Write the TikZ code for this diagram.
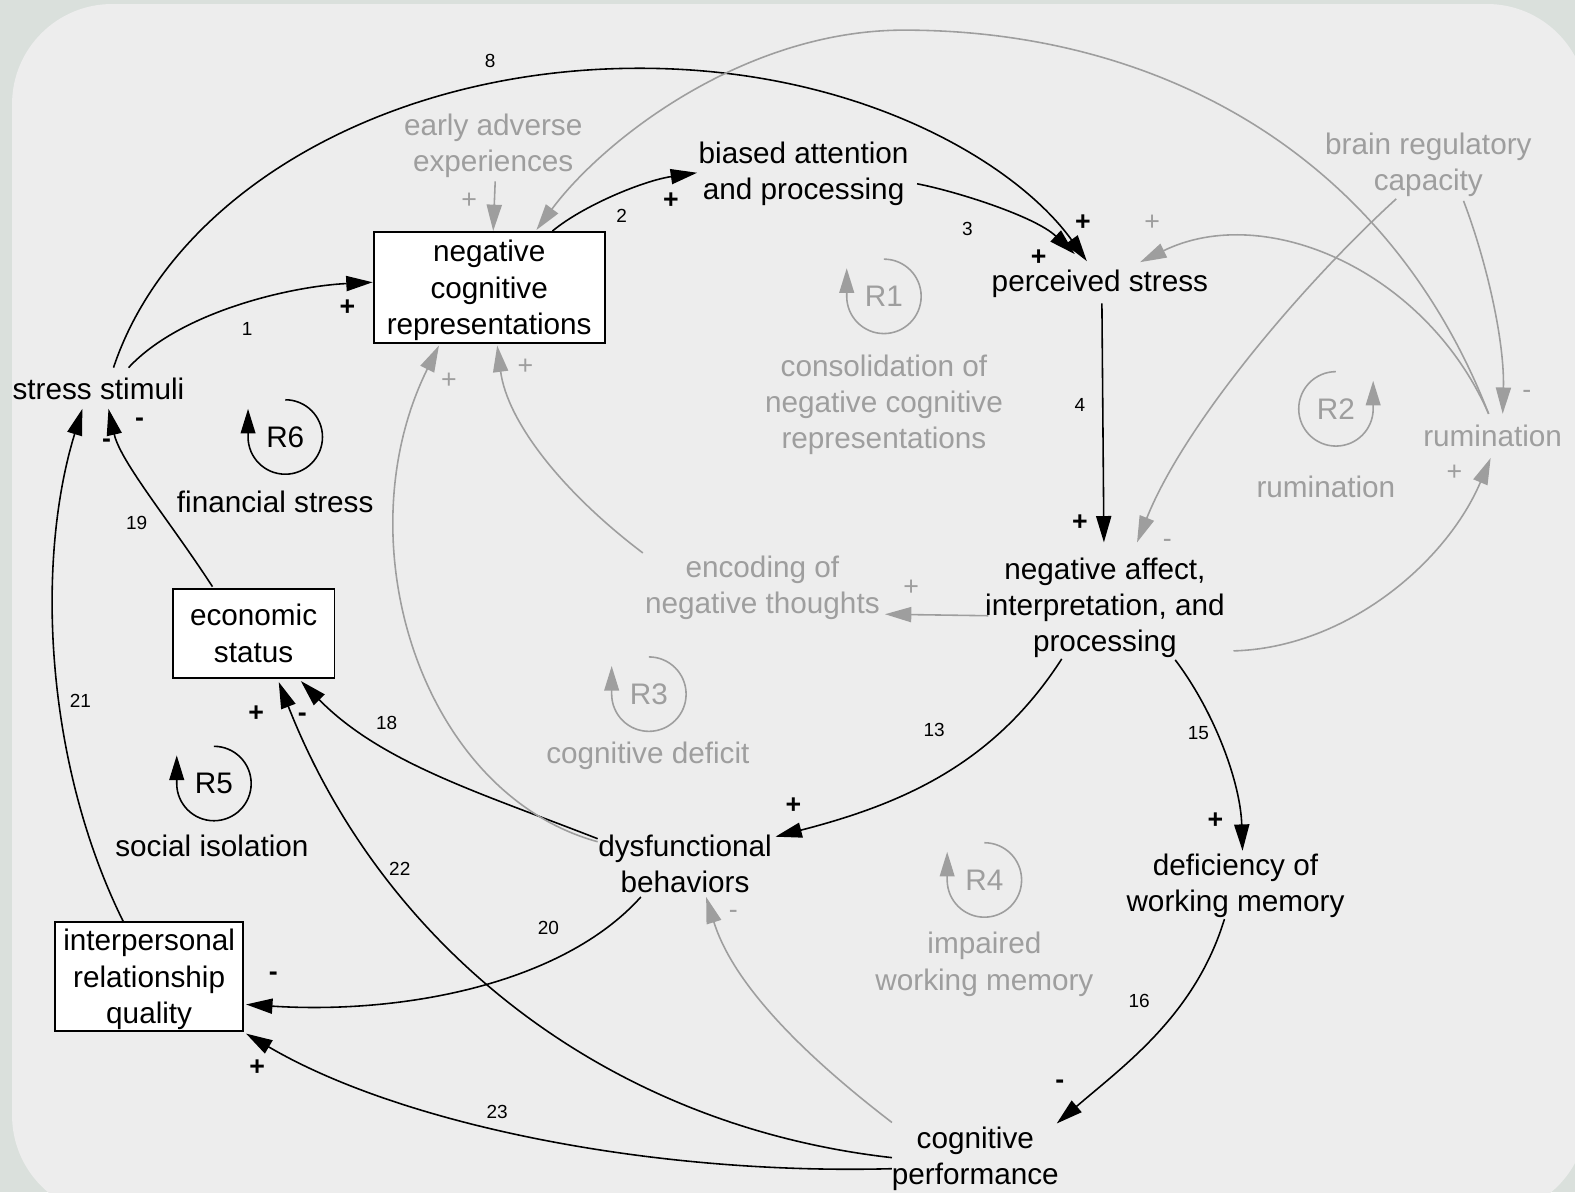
\documentclass[tikz,border=0pt]{standalone}
\usepackage{fontspec}
\setmainfont{Liberation Sans}
\usetikzlibrary{arrows.meta}
\definecolor{outerbg}{RGB}{218,224,220}
\definecolor{panelbg}{RGB}{237,237,237}
\definecolor{lightink}{RGB}{158,158,158}

\begin{document}
\begin{tikzpicture}[x=0.010045cm,y=-0.010045cm,
  basetxt/.style={font=\fontsize{8.45}{10.3}\selectfont, align=center, inner sep=0pt},
  txt/.style={basetxt, yshift=-0.02cm},
  gtxt/.style={txt, text=lightink},
  boxed/.style={basetxt, text depth=0pt, draw=black, fill=white, line width=0.55pt},
  num/.style={font=\fontsize{5.4}{6}\selectfont, inner sep=0pt},
  polsign/.style={font=\fontsize{7.6}{8}\selectfont\bfseries, inner sep=0pt},
  gpolsign/.style={font=\fontsize{7.6}{8}\selectfont, inner sep=0pt, text=lightink},
  link/.style={line width=0.45pt, -{Triangle[length=7.5pt,width=4.3pt]}},
  glink/.style={link, lightink},
  loopmark/.style={line width=0.45pt, -{Triangle[length=7pt,width=4.2pt]}},
  gloopmark/.style={loopmark, lightink}]

% canvas and rounded panel
\useasboundingbox (0,0) rectangle (1568,1187);
\fill[outerbg] (0,0) rectangle (1568,1187);
\fill[panelbg, rounded corners=1cm] (12,4) rectangle (1580,1210);

% variables
\node[txt] (stress) at (98,385) {stress stimuli};
\node[boxed, minimum width=2.31cm, minimum height=1.105cm] (ncr) at (487,286) {negative\\cognitive\\representations};
\node[txt] (bap) at (800,171) {biased attention\\and processing};
\node[gtxt] (eae) at (491,143.5) {early adverse\\experiences};
\node[txt] (ps) at (1095,281) {perceived stress};
\node[gtxt] (brc) at (1422,162) {brain regulatory\\capacity};
\node[gtxt] (rum) at (1486,432) {rumination};
\node[txt] (naip) at (1100,603) {negative affect,\\interpretation, and\\processing};
\node[gtxt] (ent) at (759,583.5) {encoding of\\negative thoughts};
\node[boxed, minimum width=1.617cm, minimum height=0.894cm] (es) at (252.5,630.5) {economic\\status};
\node[boxed, minimum width=1.878cm, minimum height=1.085cm] (irq) at (148.5,972) {interpersonal\\relationship\\quality};
\node[txt] (db) at (682,858) {dysfunctional\\behaviors};
\node[txt] (dwm) at (1230,880) {deficiency of\\working memory};
\node[txt] (cp) at (971,1151.5) {cognitive\\performance};

% loop names
\node[gtxt] (lc1) at (880,401) {consolidation of\\negative cognitive\\representations};
\node[gtxt] (lc2) at (1320,483) {rumination};
\node[gtxt] (lc3) at (645,750) {cognitive deficit};
\node[gtxt] (lc4) at (980,958) {impaired\\working memory};
\node[txt] (lc5) at (211,840) {social isolation};
\node[txt] (lc6) at (274,498) {financial stress};

% loop markers
\node[gtxt] (r1) at (880,293) {R1};
\node[gtxt] (r2) at (1330,405) {R2};
\node[gtxt] (r3) at (646,689) {R3};
\node[gtxt] (r4) at (980,874) {R4};
\node[txt] (r5) at (213,778) {R5};
\node[txt] (r6) at (284,433) {R6};
\draw[gloopmark] (r1.center) ++(0,-37) arc[start angle=90, end angle=-180, radius=0.372cm] -- ++(0,-28);
\draw[gloopmark] (r2.center) ++(0,-37) arc[start angle=90, end angle=360, radius=0.372cm] -- ++(0,-28);
\draw[gloopmark] (r3.center) ++(0,-37) arc[start angle=90, end angle=-180, radius=0.372cm] -- ++(0,-28);
\draw[gloopmark] (r4.center) ++(0,-37) arc[start angle=90, end angle=-180, radius=0.372cm] -- ++(0,-28);
\draw[loopmark] (r5.center) ++(0,-37) arc[start angle=90, end angle=-180, radius=0.372cm] -- ++(0,-28);
\draw[loopmark] (r6.center) ++(0,-37) arc[start angle=90, end angle=-180, radius=0.372cm] -- ++(0,-28);

% main causal links
\draw[link] ([shift={(30,-21)}]stress.center) .. controls (180,310) and (290,285) .. ([shift={(0,-5)}]ncr.west);
\coordinate (top8) at (630,68);
\draw[link] ([shift={(15,-21)}]stress.center) .. controls (170,195) and (380,70) .. (top8) .. controls (850,66) and (1010,160) .. ([shift={(-13,-23)}]ps.center);
\draw[link] ([shift={(63,0)}]ncr.north) .. controls (580,205) and (640,180) .. ([shift={(-106,-1)}]bap.center);
\draw[link] ([shift={(113,10)}]bap.center) .. controls (950,190) and (1030,215) .. ([shift={(-25,-30)}]ps.center);
\draw[link] ([shift={(2,19)}]ps.center) -- ([shift={(-1,-65)}]naip.center);
\draw[link] ([shift={(-43,51)}]naip.center) .. controls (990,760) and (900,800) .. ([shift={(90,-27)}]db.center);
\draw[link] ([shift={(70,52)}]naip.center) .. controls (1210,710) and (1235,780) .. ([shift={(7,-35)}]dwm.center);
\draw[link] ([shift={(-11,33)}]dwm.center) .. controls (1190,1010) and (1120,1060) .. ([shift={(81,-35)}]cp.center);
\draw[link] ([shift={(-87,-25)}]db.center) .. controls (480,790) and (380,760) .. ([shift={(47,2)}]es.south);
\draw[link] ([shift={(-83,-1)}]cp.center) .. controls (600,1120) and (380,940) .. ([shift={(25,3)}]es.south);
\draw[link] ([shift={(-44,33)}]db.center) .. controls (560,980) and (400,1010) .. ([shift={(2,28)}]irq.east);
\draw[link] ([shift={(-83,10)}]cp.center) .. controls (650,1170) and (400,1120) .. ([shift={(2,2)}]irq.south east);
\draw[link] ([shift={(-41,-1)}]es.north) .. controls (170,520) and (120,460) .. ([shift={(10,20)}]stress.center);
\draw[link] ([shift={(-26,0)}]irq.north) .. controls (45,760) and (35,560) .. ([shift={(-16,20)}]stress.center);

% secondary links
\draw[glink] ([shift={(2,35)}]eae.center) -- ([shift={(4,0)}]ncr.north);
\coordinate (top12) at (900,30);
\draw[glink] ([shift={(-4,-22)}]rum.center) .. controls (1380,150) and (1150,30) .. (top12) .. controls (740,30) and (600,140) .. ([shift={(47,-1)}]ncr.north);
\draw[glink] ([shift={(-4,-22)}]rum.center) .. controls (1420,270) and (1260,200) .. ([shift={(40,-22)}]ps.center);
\draw[glink] ([shift={(35,36)}]brc.center) .. controls (1480,260) and (1498,340) .. ([shift={(10,-22)}]rum.center);
\draw[glink] ([shift={(-32,34)}]brc.center) .. controls (1300,280) and (1180,420) .. ([shift={(32,-65)}]naip.center);
\draw[glink] ([shift={(128,43)}]naip.center) .. controls (1340,645) and (1440,560) .. ([shift={(-2,22)}]rum.center);
\draw[glink] ([shift={(-116,8)}]naip.center) -- ([shift={(122,26)}]ent.center);
\draw[glink] ([shift={(-119,-35)}]ent.center) .. controls (560,490) and (505,420) .. ([shift={(8,2)}]ncr.south);
\draw[glink] ([shift={(-87,-22)}]db.center) .. controls (420,790) and (340,540) .. ([shift={(-50,2)}]ncr.south);
\draw[glink] ([shift={(-83,-36)}]cp.center) .. controls (800,1050) and (730,980) .. ([shift={(21,33)}]db.center);

% link numbers
\node[num] (n8) at (488,61) {8};
\node[num] (n1) at (246,328) {1};
\node[num] (n2) at (619,215) {2};
\node[num] (n3) at (963,228) {3};
\node[num] (n4) at (1075,403) {4};
\node[num] (n13) at (930,727) {13};
\node[num] (n15) at (1193,730) {15};
\node[num] (n16) at (1134,997) {16};
\node[num] (n18) at (385,720) {18};
\node[num] (n19) at (136,521) {19};
\node[num] (n20) at (546,924) {20};
\node[num] (n21) at (80,698) {21};
\node[num] (n22) at (398,865) {22};
\node[num] (n23) at (495,1107) {23};

% link polarities
\node[polsign] (p1) at (346,306) {+};
\node[polsign] (p2) at (668,200) {+};
\node[polsign] (p3) at (1078,222) {+};
\node[polsign] (p4) at (1034,257) {+};
\node[polsign] (p5) at (1075,520) {+};
\node[polsign] (p6) at (790,802) {+};
\node[polsign] (p7) at (1210,817) {+};
\node[polsign] (p8) at (255,710) {+};
\node[polsign] (p9) at (256,1063) {+};
\node[polsign] (m1) at (139,420) {-};
\node[polsign] (m2) at (106,441) {-};
\node[polsign] (m3) at (301,714) {-};
\node[polsign] (m4) at (272,972) {-};
\node[polsign] (m5) at (1055,1079) {-};
\node[gpolsign] (g1) at (467,200) {+};
\node[gpolsign] (g2) at (1147,222) {+};
\node[gpolsign] (g3) at (1448,471) {+};
\node[gpolsign] (g4) at (907,585) {+};
\node[gpolsign] (g5) at (523,365) {+};
\node[gpolsign] (g6) at (447,379) {+};
\node[gpolsign] (g7) at (1520,393) {-};
\node[gpolsign] (g8) at (1162,541) {-};
\node[gpolsign] (g9) at (730,910) {-};
\end{tikzpicture}
\end{document}
